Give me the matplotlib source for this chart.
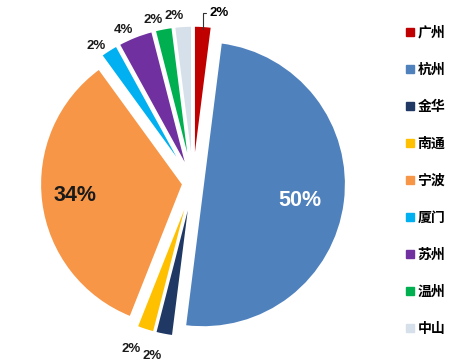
import numpy as np
import matplotlib
matplotlib.use("Agg")
import matplotlib.pyplot as plt

plt.rcParams['font.family'] = ['Liberation Sans', 'Noto Sans CJK SC', 'DejaVu Sans']

# data
cities = ['广州', '杭州', '金华', '南通', '宁波', '厦门', '苏州', '温州', '中山']
shares = [2, 50, 2, 2, 34, 2, 4, 2, 2]
colors = ['#C00000', '#4F81BD', '#1F3864', '#FFC000', '#F79646',
          '#00B0F0', '#7030A0', '#00B050', '#D6E0EA']
explode = [0.10, 0.07, 0.08, 0.08, 0.07, 0.10, 0.10, 0.10, 0.10]

W, H = 469, 363
cx, cy, rad = 193, 183, 143   # pie centre / radius in pixels

fig = plt.figure(figsize=(W / 100, H / 100), dpi=100)
ax = fig.add_axes([0, 0, 1, 1])

wedges, _ = ax.pie(shares, colors=colors, explode=explode, startangle=90,
                   counterclock=False, radius=1,
                   wedgeprops=dict(edgecolor='white', linewidth=1.5))

ax.set_xlim(-cx / rad, (W - cx) / rad)
ax.set_ylim(-(H - cy) / rad, cy / rad)
ax.axis('off')

for i, w in enumerate(wedges):
    mid_deg = (w.theta1 + w.theta2) / 2
    mid = np.deg2rad(mid_deg)
    ox, oy = w.center
    txt = '{}%'.format(shares[i])
    if shares[i] >= 30:
        r = 0.68 if i == 1 else 0.76
        col = 'white' if i == 1 else '#1a1a1a'
        dy = -0.03 if i == 1 else 0.02
        ax.text(ox + r * np.cos(mid), oy + r * np.sin(mid) + dy, txt,
                ha='center', va='center', fontsize=15.5, fontweight='bold', color=col)
    elif i == 0:
        # leader line for the first slice
        px, py = ox + 0.98 * np.cos(mid), oy + 0.98 * np.sin(mid)
        ax.annotate(txt, xy=(px, py), xytext=(px + 0.05, py + 0.11),
                    ha='left', va='center', fontsize=9.5, fontweight='bold',
                    arrowprops=dict(arrowstyle='-', color='#333333', lw=0.8,
                                    shrinkA=1, shrinkB=0,
                                    connectionstyle='angle,angleA=0,angleB=90,rad=0'))
    else:
        if i in (2, 3):
            r, a = 1.24, np.deg2rad(mid_deg - 2.5)
        else:
            r, a = 1.175, np.deg2rad(mid_deg + 3)
        ax.text(r * np.cos(a), r * np.sin(a), txt,
                ha='center', va='center', fontsize=9.5, fontweight='bold', color='#1a1a1a')

handles = [plt.Line2D([], [], marker='s', linestyle='', markersize=5.5,
                      markerfacecolor=c, markeredgecolor=c) for c in colors]
fig.legend(handles, cities, loc='upper left', bbox_to_anchor=(393 / W, 1 - 13 / H),
           frameon=False, handlelength=0.6, handletextpad=0.25, labelspacing=1.66,
           prop=dict(family=['Noto Sans CJK SC'], size=10, weight='bold'))

fig.savefig('out.png', dpi=100)
